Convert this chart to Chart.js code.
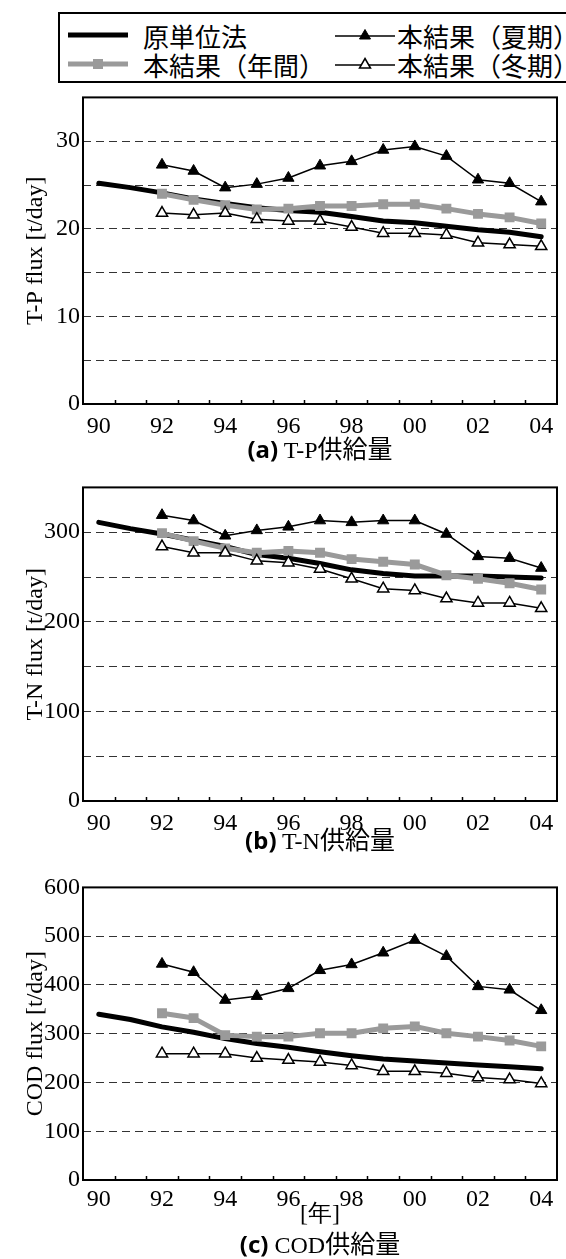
<!DOCTYPE html>
<html lang="ja">
<head>
<meta charset="utf-8">
<title>T-P / T-N / COD 供給量</title>
<script src="https://cdn.jsdelivr.net/npm/chart.js@4.4.1/dist/chart.umd.min.js"></script>
<style>
  html, body { margin: 0; padding: 0; background: #fff; }
  body { width: 566px; height: 1259px; position: relative; overflow: hidden;
         font-family: "Liberation Serif", "Noto Sans CJK JP", serif; color: #000; }
  canvas { position: absolute; left: 0; }
  #legend { position: absolute; left: 58px; top: 12px; width: 530px; height: 71px;
            border: 2px solid #000; box-sizing: border-box; background: #fff; z-index: 2; }
  #legend .it { position: absolute; display: flex; align-items: center; height: 30px;
                font: 26px "Noto Sans CJK JP", sans-serif; white-space: nowrap; }
  #legend svg { display: block; }
  .cap { position: absolute; left: 83px; width: 474px; text-align: center; font-size: 24px;
         line-height: 28px; white-space: nowrap; }
  .cap b { font-family: "Noto Sans", "DejaVu Sans", sans-serif; font-weight: 700; }
  .cap .jp { font-family: "Noto Sans CJK JP", sans-serif; font-size: 25px; }
</style>
</head>
<body>
<div id="legend">
  <div class="it" style="left:8px;top:6px">
    <svg width="60" height="14"><line x1="0" y1="7" x2="60" y2="7" stroke="#000" stroke-width="5"/></svg>
    <span style="margin-left:15px">原単位法</span>
  </div>
  <div class="it" style="left:8px;top:35px">
    <svg width="60" height="14"><line x1="0" y1="7" x2="60" y2="7" stroke="#9a9a9a" stroke-width="5"/>
      <rect x="25" y="2" width="10" height="10" fill="#9a9a9a"/></svg>
    <span style="margin-left:15px">本結果（年間）</span>
  </div>
  <div class="it" style="left:275px;top:6px">
    <svg width="60" height="14"><line x1="0" y1="8" x2="60" y2="8" stroke="#000" stroke-width="1.5"/>
      <polygon points="30,1.5 35.5,11 24.5,11" fill="#000" stroke="#000" stroke-width="1"/></svg>
    <span style="margin-left:2px">本結果（夏期）</span>
  </div>
  <div class="it" style="left:275px;top:35px">
    <svg width="60" height="14"><line x1="0" y1="8" x2="60" y2="8" stroke="#000" stroke-width="1.5"/>
      <polygon points="30,1.5 35.5,11 24.5,11" fill="#fff" stroke="#000" stroke-width="1.5"/></svg>
    <span style="margin-left:2px">本結果（冬期）</span>
  </div>
</div>

<canvas id="c-tp" width="566" height="360" style="top:80px"></canvas>
<div class="cap" style="top:433px"><b>(a)</b> T-P<span class="jp">供給量</span></div>

<canvas id="c-tn" width="566" height="372" style="top:470px"></canvas>
<div class="cap" style="top:824px"><b>(b)</b> T-N<span class="jp">供給量</span></div>

<canvas id="c-cod" width="566" height="370" style="top:870px"></canvas>
<div class="cap" style="top:1228px"><b>(c)</b> COD<span class="jp">供給量</span></div>

<script>
(() => {
  "use strict";
  const $ = (s) => document.querySelector(s);

  // years 1990..2004, labels as printed on the axis
  const YEARS = ["90", "91", "92", "93", "94", "95", "96", "97", "98", "99", "00", "01", "02", "03", "04"];

  // (a) T-P flux [t/day]
  const TP_BASE   = [25.2, 24.7, 24.1, 23.4, 22.9, 22.4, 22.1, 21.9, 21.4, 20.9, 20.7, 20.3, 19.9, 19.6, 19.1];
  const TP_ANNUAL = [24.0, 23.3, 22.7, 22.2, 22.3, 22.6, 22.6, 22.8, 22.8, 22.3, 21.7, 21.3, 20.6];
  const TP_SUMMER = [27.3, 26.6, 24.7, 25.1, 25.8, 27.2, 27.7, 29.0, 29.4, 28.3, 25.6, 25.2, 23.1];
  const TP_WINTER = [21.8, 21.6, 21.8, 21.1, 20.9, 20.9, 20.2, 19.5, 19.5, 19.3, 18.4, 18.2, 18.0];

  // (b) T-N flux [t/day]
  const TN_BASE   = [311, 304, 298, 291, 284, 275, 271, 265, 258, 254, 251, 251, 251, 250, 249];
  const TN_ANNUAL = [299, 290, 282, 277, 279, 277, 270, 267, 264, 252, 248, 243, 236];
  const TN_SUMMER = [319, 313, 296, 302, 306, 313, 311, 313, 313, 298, 273, 271, 260];
  const TN_WINTER = [284, 277, 277, 268, 266, 259, 248, 237, 235, 226, 221, 221, 215];

  // (c) COD flux [t/day]
  const COD_BASE   = [340, 329, 314, 303, 290, 280, 272, 263, 255, 248, 244, 240, 236, 232, 228];
  const COD_ANNUAL = [342, 332, 297, 294, 294, 301, 301, 311, 315, 301, 294, 286, 274];
  const COD_SUMMER = [443, 426, 369, 377, 393, 430, 442, 466, 492, 459, 397, 390, 348];
  const COD_WINTER = [259, 259, 259, 250, 246, 242, 235, 223, 223, 219, 210, 206, 198];

  // result series start in 1992
  const from92 = (a) => [null, null, ...a];

  Chart.defaults.font.family = "Liberation Serif";
  Chart.defaults.font.size = 24;
  Chart.defaults.color = "#000";

  // plot box + small inward ticks between the years
  const frame = {
    id: "frame",
    afterDraw(chart) {
      const { ctx, chartArea: a, scales: { x } } = chart;
      ctx.save();
      ctx.strokeStyle = "#000";
      ctx.lineWidth = 1.5;
      ctx.beginPath();
      for (let i = 0; i < YEARS.length - 1; i++) {
        const px = Math.round((x.getPixelForValue(i) + x.getPixelForValue(i + 1)) / 2) + 0.5;
        ctx.moveTo(px, a.bottom);
        ctx.lineTo(px, a.bottom - 4);
      }
      ctx.stroke();
      ctx.lineWidth = 2;
      ctx.strokeRect(a.left, a.top, a.right - a.left, a.bottom - a.top);
      ctx.restore();
    },
  };

  function panel(id, o) {
    const cv = $(id);
    const top = parseInt(cv.style.top, 10);
    const tri = { pointStyle: "triangle", pointRadius: 6.5, borderColor: "#000", borderWidth: 1.5,
                  pointBorderColor: "#000", tension: 0 };
    return new Chart(cv, {
      type: "line",
      data: {
        labels: YEARS,
        datasets: [
          { ...tri, data: from92(o.winter), pointBackgroundColor: "#fff", pointBorderWidth: 1.5 },
          { ...tri, data: from92(o.summer), pointBackgroundColor: "#000", pointBorderWidth: 1 },
          { data: from92(o.annual), borderColor: "#9a9a9a", backgroundColor: "#9a9a9a", borderWidth: 5,
            pointStyle: "rect", pointRadius: 7, pointBorderWidth: 0, pointBackgroundColor: "#9a9a9a",
            borderJoinStyle: "round", tension: 0 },
          { data: o.base, borderColor: "#000", borderWidth: 5, pointRadius: 0,
            borderCapStyle: "round", borderJoinStyle: "round", tension: 0 },
        ],
      },
      options: {
        responsive: false, animation: false, events: [],
        layout: { padding: { top: o.plotTop - top, right: 9, left: 0, bottom: 0 } },
        plugins: { legend: { display: false }, tooltip: { enabled: false } },
        scales: {
          x: {
            offset: true,
            grid: { display: false }, border: { display: false },
            ticks: { autoSkip: false, maxRotation: 0, padding: o.xPad,
                     callback: (v, i) => (i % 2 ? "" : YEARS[i]) },
            title: o.xTitle ? { display: true, text: o.xTitle, padding: { top: 0, bottom: 11 } }
                            : { display: false },
            afterFit: (s) => { s.height = top + cv.height - o.plotBottom; },
          },
          y: {
            min: 0, max: o.max,
            ticks: { stepSize: o.step, padding: 3,
                     callback: (v) => (v % o.labelStep === 0 ? v : "") },
            grid: { drawTicks: false, lineWidth: 1,
                    color: (c) => (c.tick.value === 0 || c.tick.value === o.max ? "rgba(0,0,0,0)" : "#333") },
            border: { display: false, dash: [8, 5] },
            title: { display: true, text: o.yTitle, padding: { top: 21, bottom: 0 } },
            afterFit: (s) => { s.width = 83; },
          },
        },
      },
      plugins: [frame],
    });
  }

  panel("#c-tp", { base: TP_BASE, annual: TP_ANNUAL, summer: TP_SUMMER, winter: TP_WINTER,
                   max: 35, step: 5, labelStep: 10, yTitle: "T-P flux [t/day]",
                   plotTop: 96, plotBottom: 404, xPad: 0 });
  panel("#c-tn", { base: TN_BASE, annual: TN_ANNUAL, summer: TN_SUMMER, winter: TN_WINTER,
                   max: 350, step: 50, labelStep: 100, yTitle: "T-N flux [t/day]",
                   plotTop: 487, plotBottom: 801, xPad: 0 });
  panel("#c-cod", { base: COD_BASE, annual: COD_ANNUAL, summer: COD_SUMMER, winter: COD_WINTER,
                    max: 600, step: 100, labelStep: 100, yTitle: "COD flux [t/day]", xTitle: "[年]",
                    plotTop: 886, plotBottom: 1180, xPad: -3 });
})();
</script>
</body>
</html>
